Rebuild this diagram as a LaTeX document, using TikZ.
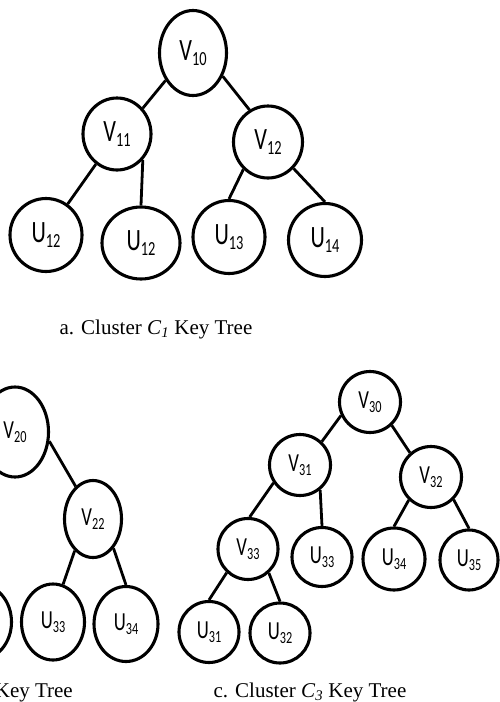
\documentclass[tikz,border=0pt]{standalone}
\usepackage{fontspec}
\setmainfont{Liberation Serif}
\newfontfamily\labfont[FakeStretch=0.72]{Carlito}
\usetikzlibrary{shapes.geometric}
\newcommand\lbA[2]{{\labfont\fontsize{31}{31}\selectfont #1\raisebox{-5pt}{\fontsize{20}{20}\selectfont #2}}}
\newcommand\lbC[2]{{\labfont\fontsize{26}{26}\selectfont #1\raisebox{-4pt}{\fontsize{17}{17}\selectfont #2}}}
\begin{document}
\begin{tikzpicture}[x=1pt,y=-1pt,
  nd/.style={draw, ellipse, line width=3.1pt, inner sep=0pt, fill=white},
  sz/.style 2 args={minimum width=#1pt, minimum height=#2pt},
  ed/.style={line width=2.8pt},
  captxt/.style={font=\fontsize{21}{21}\selectfont, inner sep=0pt}]
\useasboundingbox (0,0) rectangle (500,702);
\clip (0,0) rectangle (500,702);
\fill[white] (0,0) rectangle (500,702);

% ---- tree a
\node[nd, sz={67}{85}] (v10) at (193,53) {\lbA{V}{10}};
\node[nd, sz={68}{72}] (v11) at (117,134) {\lbA{V}{11}};
\node[nd, sz={69}{72}] (v12) at (268,142) {\lbA{V}{12}};
\node[nd, sz={72}{73}] (u12a) at (46,235) {\lbA{U}{12}};
\node[nd, sz={78}{72}] (u12b) at (141,243) {\lbA{U}{12}};
\node[nd, sz={72}{73}] (u13) at (229,237) {\lbA{U}{13}};
\node[nd, sz={73}{73}] (u14) at (325,240) {\lbA{U}{14}};
\draw[ed] (v10.225) -- (v11.45);
\draw[ed] (v10.-38) -- (v12.120);
\draw[ed] (v11.235) -- (u12a.55);
\draw[ed] (v11.-45) -- (u12b.north);
\draw[ed] (v12.228) -- (u13.north);
\draw[ed] (v12.-46) -- (u14.north);
\node[captxt, anchor=base] (capa) at (156,334) {a. Cluster \textit{C}\textsubscript{\textit{1}} Key Tree};

% ---- tree b (cut at left edge)
\node[nd, sz={67}{90}] (v20) at (15,432) {\lbC{V}{20}};
\node[nd, sz={57}{77}] (v22) at (93,519) {\lbC{V}{22}};
\node[nd, sz={63}{75}] (ub0) at (-20,622) {};
\node[nd, sz={63}{76}] (u33b) at (53,622) {\lbC{U}{33}};
\node[nd, sz={64}{75}] (u34b) at (126,624) {\lbC{U}{34}};
\draw[ed] (v20.-15) -- (v22.118);
\draw[ed] (v22.240) -- (u33b.75);
\draw[ed] (v22.-55) -- (u34b.north);
\node[captxt, anchor=base east] (capb) at (73,697) {Key Tree};

% ---- tree c
\node[nd, sz={61}{61}] (v30) at (370,402) {\lbC{V}{30}};
\node[nd, sz={61}{61}] (v31) at (300,465) {\lbC{V}{31}};
\node[nd, sz={61}{61}] (v32) at (431,477) {\lbC{V}{32}};
\node[nd, sz={60}{61}] (v33) at (248,549) {\lbC{V}{33}};
\node[nd, sz={60}{59}] (u33c) at (322,557) {\lbC{U}{33}};
\node[nd, sz={62}{62}] (u34c) at (394,559) {\lbC{U}{34}};
\node[nd, sz={58}{60}] (u35c) at (469,560) {\lbC{U}{35}};
\node[nd, sz={60}{61}] (u31) at (209,632) {\lbC{U}{31}};
\node[nd, sz={60}{60}] (u32) at (280,633) {\lbC{U}{32}};
\draw[ed] (v30.205) -- (v31.47);
\draw[ed] (v30.-47) -- (v32.131);
\draw[ed] (v31.214) -- (v33.87);
\draw[ed] (v31.-51) -- (u33c.north);
\draw[ed] (v32.226) -- (u34c.north);
\draw[ed] (v32.-45) -- (u35c.north);
\draw[ed] (v33.228) -- (u31.north);
\draw[ed] (v33.-49) -- (u32.north);
\node[captxt, anchor=base] (capc) at (310,697) {c. Cluster \textit{C}\textsubscript{\textit{3}} Key Tree};
\end{tikzpicture}
\end{document}
